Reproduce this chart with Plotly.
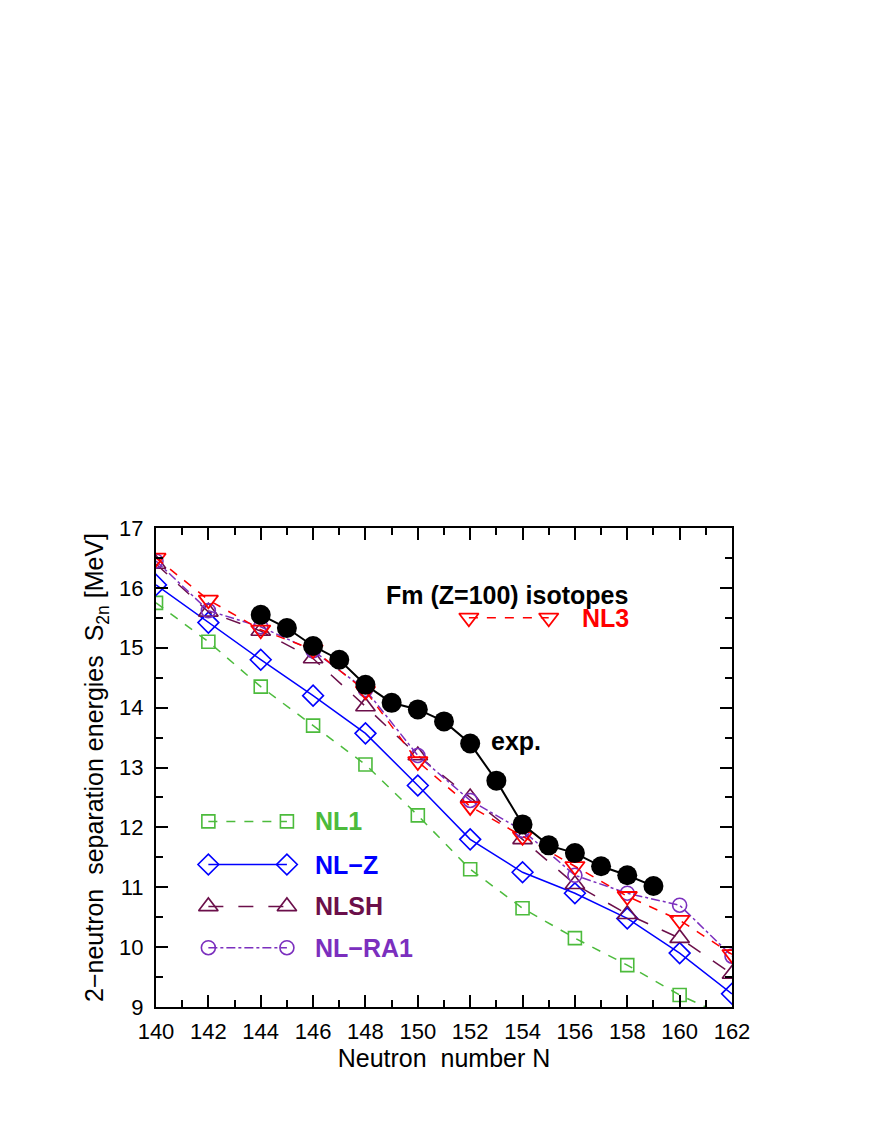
import plotly.graph_objects as go

N = [140, 142, 144, 146, 148, 150, 152, 154, 156, 158, 160, 162]
nl1 = [15.75, 15.1, 14.35, 13.7, 13.05, 12.2, 11.3, 10.65, 10.15, 9.7, 9.2, 8.8]
nlz = [16.05, 15.42, 14.8, 14.2, 13.57, 12.7, 11.8, 11.25, 10.9, 10.48, 9.9, 9.22]
nlsh = [16.4, 15.6, 15.28, 14.82, 14.02, 13.2, 12.5, 11.8, 11.05, 10.55, 10.15, 9.55]
nl3 = [16.5, 15.8, 15.3, 14.97, 14.28, 13.1, 12.35, 11.85, 11.35, 10.85, 10.45, 9.88]
nlra1 = [16.45, 15.62, 15.35, 14.95, 14.3, 13.2, 12.45, 11.95, 11.2, 10.9, 10.7, 9.85]
N_exp = list(range(144, 160))
s2n_exp = [15.55, 15.33, 15.03, 14.8, 14.38, 14.08, 13.97, 13.77, 13.4, 12.78,
           12.05, 11.7, 11.57, 11.35, 11.2, 11.02]

# name, values, color, dash, symbol, marker size, legend y
series = [
    ("NL1", nl1, "#4cbb3c", "dash", "square-open", 13, 12.1),
    ("NL\u2212Z", nlz, "#0000ff", "solid", "diamond-open", 16, 11.38),
    ("NLSH", nlsh, "#6b0f4a", "longdash", "triangle-up-open", 17, 10.68),
    ("NL\u2212RA1", nlra1, "#7b2fbe", "dashdot", "circle-open", 14, 9.99),
]

fig = go.Figure()

for name, vals, col, dash, sym, ms, ly in series:
    mk = dict(symbol=sym, size=ms, color=col, line=dict(width=1.6))
    fig.add_trace(go.Scatter(x=N, y=vals, mode="lines+markers",
                             line=dict(color=col, dash=dash, width=1.5), marker=mk))
    # legend sample
    fig.add_trace(go.Scatter(x=[142, 145], y=[ly, ly], mode="lines+markers",
                             line=dict(color=col, dash=dash, width=1.5), marker=mk))
    fig.add_annotation(x=146.0, y=ly, text="<b>%s</b>" % name, showarrow=False,
                       xanchor="left", font=dict(size=25, color=col))

mk3 = dict(symbol="triangle-down-open", size=17, color="#ff0000", line=dict(width=1.8))
fig.add_trace(go.Scatter(x=N, y=nl3, mode="lines+markers",
                         line=dict(color="#ff0000", dash="dash", width=1.5), marker=mk3))
fig.add_trace(go.Scatter(x=[151.95, 155], y=[15.5, 15.5], mode="lines+markers",
                         line=dict(color="#ff0000", dash="dash", width=1.5), marker=mk3))
fig.add_annotation(x=156.2, y=15.5, text="<b>NL3</b>", showarrow=False,
                   xanchor="left", font=dict(size=25, color="#ff0000"))

fig.add_trace(go.Scatter(x=N_exp, y=s2n_exp, mode="lines+markers",
                         line=dict(color="black", width=2),
                         marker=dict(symbol="circle", size=20, color="black")))
fig.add_annotation(x=152.7, y=13.45, text="<b>exp.</b>", showarrow=False,
                   xanchor="left", font=dict(size=25, color="black"))
fig.add_annotation(x=153.4, y=15.88, text="<b>Fm (Z=100) isotopes</b>", showarrow=False,
                   font=dict(size=25, color="black"))

axis = dict(showline=True, linecolor="black", linewidth=2, mirror="allticks",
            ticks="inside", ticklen=12, tickwidth=2, tickcolor="black",
            showgrid=False, zeroline=False, automargin=False,
            tickfont=dict(size=22, color="black"))

fig.update_layout(
    width=872, height=1128,
    paper_bgcolor="white", plot_bgcolor="white",
    showlegend=False,
    font=dict(family="Liberation Sans, Arial, sans-serif", color="black"),
    margin=dict(l=148, r=148, t=520, b=129, pad=0),
    xaxis=dict(axis, range=[140, 162], dtick=2, ticklabelstandoff=4,
               minor=dict(dtick=1, ticks="inside", ticklen=7, tickwidth=2, tickcolor="black"),
               title=dict(text="Neutron  number N", font=dict(size=25), standoff=4)),
    yaxis=dict(axis, range=[9, 17], dtick=1, ticklabelstandoff=6,
               minor=dict(dtick=0.5, ticks="inside", ticklen=7, tickwidth=2, tickcolor="black"),
               title=dict(text="2\u2212neutron  separation energies  S<sub>2n</sub> [MeV]",
                          font=dict(size=25), standoff=8)),
)

fig.write_html("out.html")
